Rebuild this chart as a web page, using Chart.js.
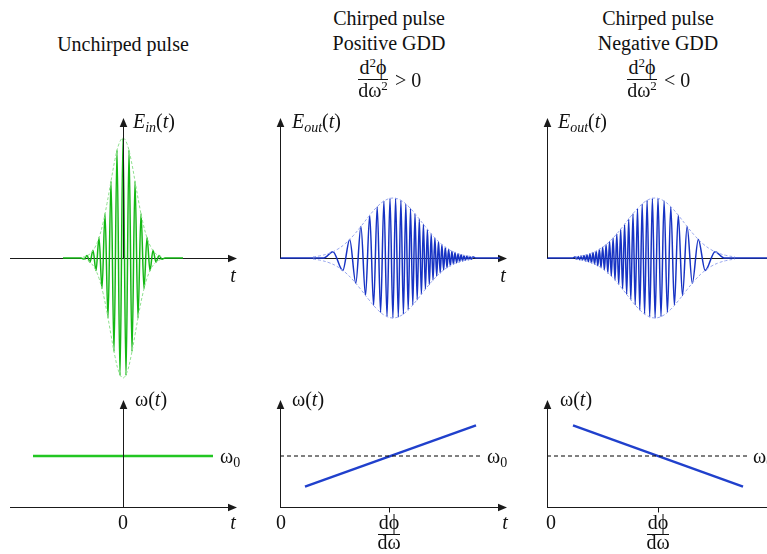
<!DOCTYPE html>
<html><head><meta charset="utf-8">
<script src="https://cdn.jsdelivr.net/npm/chart.js@4.4.1/dist/chart.umd.min.js"></script>
<style>
html,body{margin:0;padding:0;background:#fff}
body{width:767px;height:554px;overflow:hidden;position:relative;color:#111}
canvas{position:absolute}
.lbl{position:absolute;font-family:"Liberation Serif","Times New Roman",Times,"DejaVu Serif",serif;font-size:20px;line-height:20px;white-space:nowrap}
.bar{position:absolute;height:0;border-top:1px solid #111}
.sub{font-size:14px;position:relative;top:4px}
.sup{font-size:13px;position:relative;top:-7px}
</style></head><body>
<script>
// ---------------- DATA ----------------
// Unchirped input pulse E_in(t): extrema of the field (t, E)
const inT = [-60,-42,-39,-36,-33,-30,-27,-24,-21,-18,-15,-12,-9,-6,-3,0,3,6,9,12,15,18,21,24,27,30,33,36,39,42,60];
const inE = [0,0,-0.01,0.02,-0.035,0.065,-0.105,0.17,-0.255,0.37,-0.5,0.64,-0.78,0.9,-0.98,1.0,-0.98,0.9,-0.78,0.64,-0.5,0.37,-0.255,0.17,-0.105,0.065,-0.035,0.02,-0.01,0,0];
// Gaussian envelope of the input pulse
const envInT = [-40,-36,-32,-28,-24,-20,-16,-12,-8,-4,0,4,8,12,16,20,24,28,32,36,40];
const envInE = [0.007,0.018,0.042,0.089,0.169,0.291,0.454,0.641,0.821,0.952,1,0.952,0.821,0.641,0.454,0.291,0.169,0.089,0.042,0.018,0.007];

// Chirped pulse, positive GDD: extrema (t, E)
const posT = [0,44,52.9,62.8,69.7,75.8,80.9,85.5,89.7,93.6,97.2,100.6,103.9,107.0,110.0,112.9,115.6,118.3,120.9,123.4,125.8,128.2,130.5,132.8,135.0,137.2,139.3,141.4,143.4,145.4,147.4,149.3,151.2,153.0,154.9,156.7,158.5,160.2,161.9,163.6,165.3,167.0,168.6,170.3,171.9,173.4,175.0,176.6,178.1,179.6,181.1,182.6,184.0,185.5,186.9,188.4,189.8,191.2,192.6,196,220];
const posE = [0,0,0.053,-0.104,0.155,-0.21,0.263,-0.312,0.356,-0.395,0.428,-0.454,0.475,-0.489,0.497,-0.5,0.498,-0.491,0.481,-0.467,0.451,-0.433,0.413,-0.391,0.369,-0.347,0.325,-0.303,0.281,-0.259,0.239,-0.22,0.201,-0.184,0.167,-0.152,0.138,-0.124,0.112,-0.101,0.09,-0.081,0.072,-0.065,0.057,-0.051,0.045,-0.04,0.035,-0.031,0.028,-0.024,0.021,-0.019,0.016,-0.014,0.013,-0.011,0.01,0,0];

// Chirped pulse, negative GDD: extrema (t, E)
const negT = [0,26,28.4,29.8,31.2,32.6,34.1,35.5,37.0,38.4,39.9,41.4,42.9,44.5,46.0,47.6,49.2,50.8,52.4,54.0,55.7,57.4,59.1,60.8,62.6,64.3,66.1,68.0,69.8,71.7,73.7,75.6,77.6,79.7,81.7,83.8,86.0,88.2,90.5,92.8,95.2,97.6,100.1,102.7,105.4,108.1,111.0,114.0,117.1,120.4,123.8,127.4,131.3,135.5,140.1,145.3,151.3,158.2,168.1,177,225];
const negE = [0,0,0.01,-0.011,0.013,-0.014,0.016,-0.019,0.021,-0.024,0.028,-0.031,0.035,-0.04,0.045,-0.051,0.057,-0.065,0.072,-0.081,0.09,-0.101,0.112,-0.124,0.138,-0.152,0.167,-0.184,0.201,-0.22,0.239,-0.259,0.281,-0.303,0.325,-0.347,0.369,-0.391,0.413,-0.433,0.451,-0.467,0.481,-0.491,0.498,-0.5,0.497,-0.489,0.475,-0.454,0.428,-0.395,0.356,-0.312,0.263,-0.21,0.155,-0.104,0.053,0,0];

// Envelopes of the chirped pulses
const envPosT = [33,41,49,57,65,73,81,89,97,105,113,121,129,137,145,153,161,169,177,185,193];
const envNegT = [28,36,44,52,60,68,76,84,92,100,108,116,124,132,140,148,156,164,172,180,188];
const envChirpE = [0.009,0.02,0.039,0.07,0.118,0.184,0.264,0.349,0.426,0.48,0.5,0.48,0.426,0.349,0.264,0.184,0.118,0.07,0.039,0.02,0.009];

// Instantaneous frequency omega(t), in units of omega0
const flatT = [-90, 90];      const flatW = [1, 1];
const chirpPosT = [25, 196];  const chirpPosW = [0.4, 1.6];
const chirpNegT = [26, 196];  const chirpNegW = [1.6, 0.4];
const refPosT = [0, 202];     const refNegT = [0, 201];  const refW = [1, 1];
const delayPos = 109;         const delayNeg = 111;      // t = dphi/domega

// ---------------- STYLE ----------------
const GREEN = '#14b814', GREEN_L = '#8fe08f', GREEN_W = '#22c622';
const BLUE = '#1733c4', BLUE_L = '#9aa8ee', BLUE_W = '#2040cc';
const AXIS = '#1a1a1a';

function pts(xs, ys, sign) { return xs.map((x, i) => ({x: x, y: (sign || 1) * ys[i]})); }

const axesPlugin = {
  id: 'axes',
  beforeDatasetsDraw(chart, args, o) {
    const ctx = chart.ctx, sx = chart.scales.x, sy = chart.scales.y;
    const y = Math.round(sy.getPixelForValue(0)) + 0.5;
    const x1 = sx.getPixelForValue(o.xFrom), x2 = sx.getPixelForValue(o.xTo);
    ctx.save();
    ctx.strokeStyle = AXIS; ctx.fillStyle = AXIS; ctx.lineWidth = 1.2;
    ctx.beginPath(); ctx.moveTo(x1, y); ctx.lineTo(x2 - 6, y); ctx.stroke();
    ctx.beginPath(); ctx.moveTo(x2, y); ctx.lineTo(x2 - 9, y - 3.8); ctx.lineTo(x2 - 9, y + 3.8); ctx.closePath(); ctx.fill();
    (o.ticks || []).forEach(t => {
      const tx = Math.round(sx.getPixelForValue(t)) + 0.5;
      ctx.lineWidth = 1; ctx.beginPath(); ctx.moveTo(tx, y); ctx.lineTo(tx, y + 5); ctx.stroke();
    });
    ctx.restore();
  },
  afterDatasetsDraw(chart, args, o) {
    const ctx = chart.ctx, sx = chart.scales.x, sy = chart.scales.y;
    const x = Math.round(sx.getPixelForValue(0)) + 0.5;
    const y1 = sy.getPixelForValue(0), y2 = sy.getPixelForValue(o.yTo);
    ctx.save();
    ctx.strokeStyle = AXIS; ctx.fillStyle = AXIS; ctx.lineWidth = 1;
    ctx.beginPath(); ctx.moveTo(x, y1); ctx.lineTo(x, y2 + 6); ctx.stroke();
    ctx.beginPath(); ctx.moveTo(x, y2); ctx.lineTo(x - 3.8, y2 + 9); ctx.lineTo(x + 3.8, y2 + 9); ctx.closePath(); ctx.fill();
    ctx.restore();
  }
};

function wave(data, color) {
  return {data: data, borderColor: color, borderWidth: 1.5, pointRadius: 0, cubicInterpolationMode: 'monotone', fill: false};
}
function env(data, color) {
  return {data: data, borderColor: color, borderWidth: 1, borderDash: [3, 2], pointRadius: 0, tension: 0.4, fill: false};
}
function solid(data, color, w) {
  return {data: data, borderColor: color, borderWidth: w, pointRadius: 0, tension: 0, fill: false};
}
function dashed(data) {
  return {data: data, borderColor: '#000', borderWidth: 1, borderDash: [4, 3], pointRadius: 0, tension: 0, fill: false};
}

// panel layout: canvas rect, origin pixel, pixel scale
const panels = [
  {l: 0,   t: 100, w: 250, h: 290, ox: 123, oy: 258, ky: 120, ax: {xFrom: -113, xTo: 114, yTo: 1.167},
   ds: [env(pts(envInT, envInE), GREEN_L), env(pts(envInT, envInE, -1), GREEN_L), wave(pts(inT, inE), GREEN)]},
  {l: 265, t: 100, w: 250, h: 290, ox: 280, oy: 258, ky: 120, ax: {xFrom: 0, xTo: 227, yTo: 1.167},
   ds: [env(pts(envPosT, envChirpE), BLUE_L), env(pts(envPosT, envChirpE, -1), BLUE_L), wave(pts(posT, posE), BLUE)]},
  {l: 532, t: 100, w: 235, h: 290, ox: 547, oy: 258, ky: 120, ax: {xFrom: 0, xTo: 232, yTo: 1.167},
   ds: [env(pts(envNegT, envChirpE), BLUE_L), env(pts(envNegT, envChirpE, -1), BLUE_L), wave(pts(negT, negE), BLUE)]},
  {l: 0,   t: 390, w: 250, h: 130, ox: 123, oy: 507, ky: 51, ax: {xFrom: -113, xTo: 114, yTo: 2.098},
   ds: [solid(pts(flatT, flatW), GREEN_W, 2.5)]},
  {l: 265, t: 390, w: 250, h: 130, ox: 280, oy: 507, ky: 51, ax: {xFrom: 0, xTo: 227, yTo: 2.098, ticks: [delayPos]},
   ds: [dashed(pts(refPosT, refW)), solid(pts(chirpPosT, chirpPosW), BLUE_W, 2.5)]},
  {l: 532, t: 390, w: 235, h: 130, ox: 547, oy: 507, ky: 51, ax: {xFrom: 0, xTo: 232, yTo: 2.098, ticks: [delayNeg]},
   ds: [dashed(pts(refNegT, refW)), solid(pts(chirpNegT, chirpNegW), BLUE_W, 2.5)]}
];

panels.forEach(p => {
  const c = document.createElement('canvas');
  c.width = p.w; c.height = p.h;
  c.style.left = p.l + 'px'; c.style.top = p.t + 'px';
  c.style.width = p.w + 'px'; c.style.height = p.h + 'px';
  document.body.appendChild(c);
  new Chart(c, {
    type: 'line',
    data: {datasets: p.ds},
    options: {
      responsive: false, animation: false, devicePixelRatio: 1,
      layout: {padding: 0},
      plugins: {legend: {display: false}, tooltip: {enabled: false}, axes: p.ax},
      events: [],
      scales: {
        x: {type: 'linear', display: false, min: p.l - p.ox, max: p.l + p.w - p.ox},
        y: {type: 'linear', display: false, min: (p.oy - p.t - p.h) / p.ky, max: (p.oy - p.t) / p.ky}
      }
    },
    plugins: [axesPlugin]
  });
});

// ---------------- TEXT ----------------
function label(html, x, baseline, align, size) {
  const d = document.createElement('div');
  d.className = 'lbl';
  d.innerHTML = html;
  const fs = size || 20;
  d.style.fontSize = fs + 'px'; d.style.lineHeight = fs + 'px';
  d.style.top = (baseline - 0.84 * fs) + 'px';
  d.style.left = x + 'px';
  if (align === 'center') d.style.transform = 'translateX(-50%)';
  document.body.appendChild(d);
}
function bar(x1, x2, y) {
  const d = document.createElement('div');
  d.className = 'bar';
  d.style.left = x1 + 'px'; d.style.width = (x2 - x1) + 'px'; d.style.top = y + 'px';
  document.body.appendChild(d);
}

label('Unchirped pulse', 123, 51, 'center');
label('Chirped pulse', 389, 25, 'center');
label('Positive GDD', 389, 50, 'center');
label('Chirped pulse', 658, 25, 'center');
label('Negative GDD', 658, 50, 'center');

label('d<span class="sup">2</span>ϕ', 373, 74, 'center');
bar(358, 388, 79);
label('dω<span class="sup">2</span>', 373, 97, 'center');
label('&gt; 0', 395, 87, 'left');

label('d<span class="sup">2</span>ϕ', 642, 74, 'center');
bar(627, 657, 79);
label('dω<span class="sup">2</span>', 642, 97, 'center');
label('&lt; 0', 664, 87, 'left');

label('<i>E</i><span class="sub"><i>in</i></span>(<i>t</i>)', 133, 128, 'left');
label('<i>E</i><span class="sub"><i>out</i></span>(<i>t</i>)', 292, 128, 'left');
label('<i>E</i><span class="sub"><i>out</i></span>(<i>t</i>)', 558, 128, 'left');
label('<i>t</i>', 233, 282, 'center');
label('<i>t</i>', 503, 282, 'center');

label('ω(<i>t</i>)', 135, 406, 'left');
label('ω(<i>t</i>)', 292, 406, 'left');
label('ω(<i>t</i>)', 560, 406, 'left');
label('ω<span class="sub">0</span>', 220, 463, 'left');
label('ω<span class="sub">0</span>', 487, 463, 'left');
label('ω<span class="sub">0</span>', 753, 463, 'left');
label('0', 123, 529, 'center');
label('0', 281, 529, 'center');
label('0', 551, 529, 'center');
label('<i>t</i>', 233, 529, 'center');
label('<i>t</i>', 505, 529, 'center');

label('dϕ', 389, 529, 'center');
bar(378, 400, 534);
label('dω', 389, 549, 'center');
label('dϕ', 658, 529, 'center');
bar(647, 669, 534);
label('dω', 658, 549, 'center');
</script>
</body></html>
